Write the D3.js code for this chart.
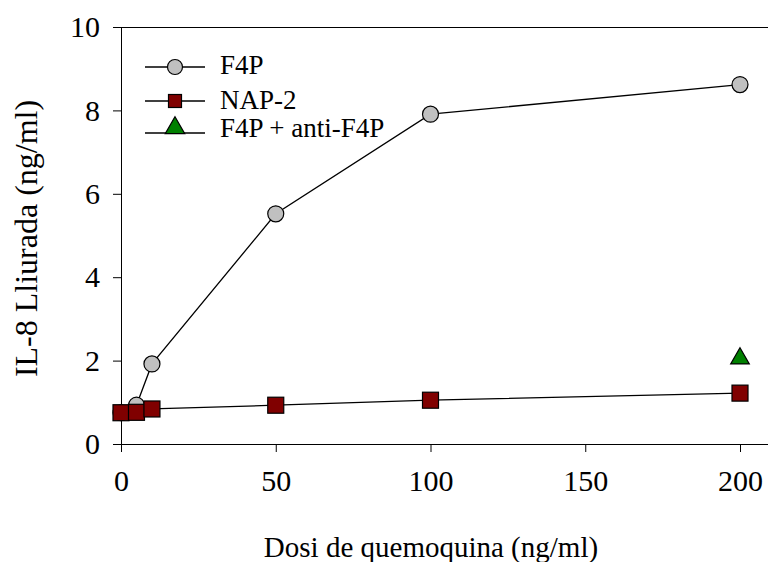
<!DOCTYPE html>
<html>
<head>
<meta charset="utf-8">
<script src="https://cdn.jsdelivr.net/npm/d3@7"></script>
<style>
  body { margin: 0; background: #fff; }
  svg, svg text { font-family: "Liberation Serif", "Times New Roman", serif !important; }
  svg { display: block; }
</style>
</head>
<body>
<div id="chart"></div>
<script>
let width = 768;
let height = 562;
let margin = { top: 27, right: -6, bottom: 118, left: 121 };

// values
const f4pDose = [0, 5, 10, 50, 100, 200];
const f4pValues = [0.75, 0.93, 1.92, 5.52, 7.91, 8.62];
const nap2Dose = [0, 5, 10, 50, 100, 200];
const nap2Values = [0.75, 0.76, 0.84, 0.93, 1.05, 1.22];
const antiDose = [200];
const antiValues = [2.05];
const xTicks = [0, 50, 100, 150, 200];
const yTicks = [0, 2, 4, 6, 8, 10];
const legendLabels = ["F4P", "NAP-2", "F4P + anti-F4P"];

const svg = d3
  .select("#chart")
  .append("svg")
  .attr("width", width)
  .attr("height", height);

const xScale = d3
  .scaleLinear()
  .domain([0, 200])
  .range([margin.left, 740]);

const yScale = d3
  .scaleLinear()
  .domain([0, 10])
  .range([444, margin.top]);

// frame top line
svg
  .append("line")
  .attr("x1", margin.left - 8)
  .attr("x2", width)
  .attr("y1", yScale(10) + 0.5)
  .attr("y2", yScale(10) + 0.5)
  .attr("stroke", "#000")
  .attr("stroke-width", 1);

const xAxis = svg
  .append("g")
  .attr("transform", `translate(0,${yScale(0)})`)
  .call(d3.axisBottom(xScale).tickValues(xTicks).tickSize(8).tickSizeOuter(0).tickPadding(19));

xAxis.select(".domain").attr("d", `M${margin.left},0.5H${width}`);

const yAxis = svg
  .append("g")
  .attr("transform", `translate(${margin.left},0)`)
  .call(d3.axisLeft(yScale).tickValues(yTicks).tickSize(8).tickSizeOuter(0).tickPadding(13));

yAxis.select(".domain").attr("d", `M0.5,${yScale(10)}V${yScale(0) + 8}`);

svg.selectAll("g").attr("font-family", null);

svg.selectAll(".tick text")
  .attr("font-size", 30)
  .attr("fill", "#000");

xAxis.selectAll(".tick text").attr("dy", "0.68em");
svg.selectAll(".tick line, .domain").attr("stroke", "#000");

// lines
const f4pData = f4pDose.map((d, i) => ({ x: d, y: f4pValues[i] }));
const nap2Data = nap2Dose.map((d, i) => ({ x: d, y: nap2Values[i] }));
const antiData = antiDose.map((d, i) => ({ x: d, y: antiValues[i] }));

const line = d3
  .line()
  .x((d) => xScale(d.x))
  .y((d) => yScale(d.y));

svg
  .append("path")
  .datum(f4pData)
  .attr("fill", "none")
  .attr("stroke", "#000")
  .attr("stroke-width", 1.3)
  .attr("d", line);

svg
  .append("path")
  .datum(nap2Data)
  .attr("fill", "none")
  .attr("stroke", "#000")
  .attr("stroke-width", 1.3)
  .attr("d", line);

// markers
svg
  .selectAll(".f4p")
  .data(f4pData)
  .enter()
  .append("circle")
  .attr("class", "f4p")
  .attr("cx", (d) => xScale(d.x))
  .attr("cy", (d) => yScale(d.y))
  .attr("r", 8)
  .attr("fill", "#c0c0c0")
  .attr("stroke", "#000")
  .attr("stroke-width", 1.2);

svg
  .selectAll(".nap2")
  .data(nap2Data)
  .enter()
  .append("rect")
  .attr("class", "nap2")
  .attr("x", (d) => xScale(d.x) - 8)
  .attr("y", (d) => yScale(d.y) - 8)
  .attr("width", 16)
  .attr("height", 16)
  .attr("fill", "#800000")
  .attr("stroke", "#000")
  .attr("stroke-width", 1.2);

const triangle = d3.symbol().type(d3.symbolTriangle).size(150);

svg
  .selectAll(".anti")
  .data(antiData)
  .enter()
  .append("path")
  .attr("class", "anti")
  .attr("d", triangle)
  .attr("transform", (d) => `translate(${xScale(d.x)},${yScale(d.y)})`)
  .attr("fill", "#008000")
  .attr("stroke", "#000")
  .attr("stroke-width", 1.2);

// axis titles
svg
  .append("text")
  .attr("text-anchor", "middle")
  .attr("transform", `translate(37,${(yScale(0) + yScale(10)) / 2 + 3}) rotate(-90)`)
  .attr("font-size", 32)
  .text("IL-8 Lliurada (ng/ml)");

svg
  .append("text")
  .attr("text-anchor", "middle")
  .attr("x", 431)
  .attr("y", 557)
  .attr("font-size", 29)
  .text("Dosi de quemoquina (ng/ml)");

// legend
const legend = svg
  .append("g")
  .selectAll("g")
  .data(legendLabels)
  .enter()
  .append("g")
  .attr("transform", (d, i) => `translate(0,${[67, 101, 133][i]})`);

legend
  .append("line")
  .attr("x1", 145)
  .attr("x2", 205)
  .attr("stroke", "#000")
  .attr("stroke-width", 1.3);

legend
  .append("text")
  .attr("x", 220)
  .attr("y", (d, i) => [7, 8, 4][i])
  .attr("font-size", 27)
  .text((d) => d);

legend.filter((d, i) => i === 0)
  .append("circle")
  .attr("cx", 175)
  .attr("r", 7.5)
  .attr("fill", "#c0c0c0")
  .attr("stroke", "#000")
  .attr("stroke-width", 1.2);

legend.filter((d, i) => i === 1)
  .append("rect")
  .attr("x", 168.5)
  .attr("y", -6.5)
  .attr("width", 13)
  .attr("height", 13)
  .attr("fill", "#800000")
  .attr("stroke", "#000")
  .attr("stroke-width", 1.2);

legend.filter((d, i) => i === 2)
  .append("path")
  .attr("d", d3.symbol().type(d3.symbolTriangle).size(165))
  .attr("transform", "translate(175,-5)")
  .attr("fill", "#008000")
  .attr("stroke", "#000")
  .attr("stroke-width", 1.2);
</script>
</body>
</html>
